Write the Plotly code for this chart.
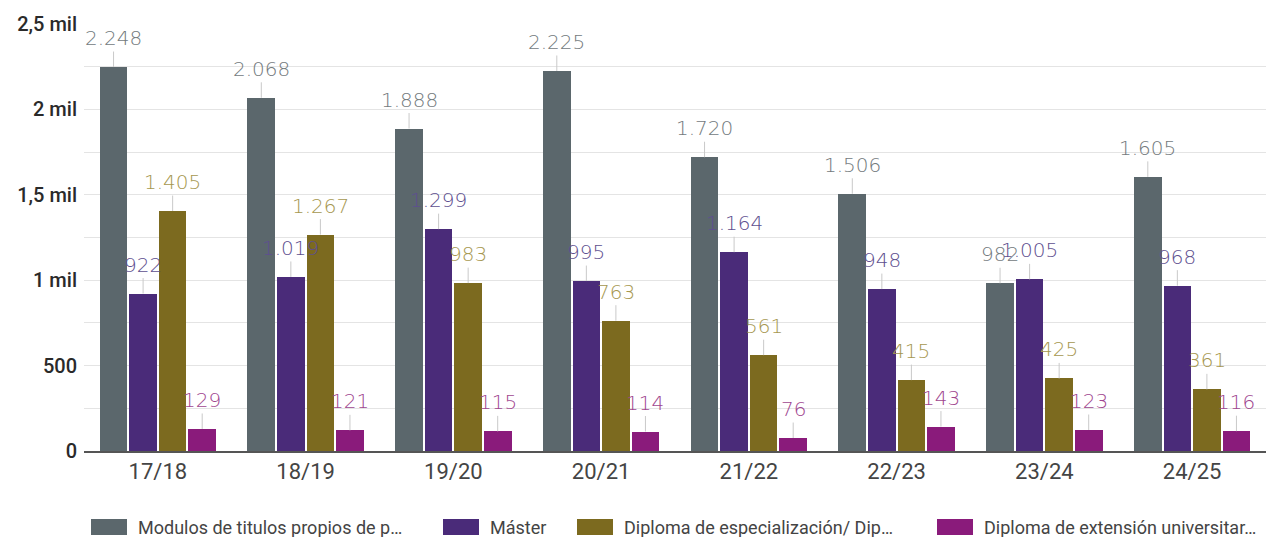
import plotly.graph_objects as go

categories = ["17/18", "18/19", "19/20", "20/21", "21/22", "22/23", "23/24", "24/25"]
series_names = [
    "Modulos de titulos propios de p…",
    "Máster",
    "Diploma de especialización/ Dip…",
    "Diploma de extensión universitar…",
]
modulos = [2248, 2068, 1888, 2225, 1720, 1506, 982, 1605]
master = [922, 1019, 1299, 995, 1164, 948, 1005, 968]
diploma_esp = [1405, 1267, 983, 763, 561, 415, 425, 361]
diploma_ext = [129, 121, 115, 114, 76, 143, 123, 116]
y_tick_vals = [0, 500, 1000, 1500, 2000, 2500]
y_tick_text = ["0", "500", "1 mil", "1,5 mil", "2 mil", "2,5 mil"]

series_values = [modulos, master, diploma_esp, diploma_ext]
bar_colors = ["#5b676c", "#4a2b79", "#7c6a1f", "#8a1b7b"]
label_colors = ["#737a7d", "#5e4f8f", "#a6974f", "#a0468f"]

W, H = 1266, 537
ML, MR, MT, MB = 84, 0, 24, 86
PW, PH = W - ML - MR, H - MT - MB

slot = 0.2
bar_w = 0.187

fig = go.Figure()
annotations = []
for k, (name, vals) in enumerate(zip(series_names, series_values)):
    xs = [i + (k - 1.5) * slot for i in range(len(categories))]
    fig.add_trace(go.Bar(
        x=xs, y=vals, width=bar_w, name=name,
        marker=dict(color=bar_colors[k], line=dict(width=0)),
        showlegend=False, hoverinfo="y",
    ))
    for x, v in zip(xs, vals):
        annotations.append(dict(
            x=x, y=v, xref="x", yref="y",
            text=f"{v:,}".replace(",", "."),
            showarrow=True, arrowhead=0, arrowwidth=1, arrowcolor="#c9c9c9",
            ax=0, ay=-29, standoff=0, startstandoff=0,
            font=dict(family="DejaVu Sans", size=20, color=label_colors[k], weight=200),
        ))

# custom legend
def px_x(p):
    return (p - ML) / PW

def px_y(p):
    return (H - MB - p) / PH

legend_starts = [91, 443, 577, 937]
shapes = []
for k, (name, sx) in enumerate(zip(series_names, legend_starts)):
    shapes.append(dict(
        type="rect", xref="paper", yref="paper",
        x0=px_x(sx), x1=px_x(sx + 36), y0=px_y(535), y1=px_y(519),
        fillcolor=bar_colors[k], line=dict(width=0),
    ))
    annotations.append(dict(
        x=px_x(sx + 45), y=px_y(527), xref="paper", yref="paper",
        xanchor="left", yanchor="middle", showarrow=False,
        text=name, font=dict(family="Roboto", size=18, color="#444444"),
    ))

fig.update_layout(
    width=W, height=H,
    margin=dict(l=ML, r=MR, t=MT, b=MB, autoexpand=False),
    plot_bgcolor="white", paper_bgcolor="white",
    showlegend=False,
    annotations=annotations, shapes=shapes,
    xaxis=dict(
        range=[-0.5, 7.5], tickvals=list(range(len(categories))), ticktext=categories,
        showgrid=False, zeroline=False, showline=True, linecolor="#555555", linewidth=1.5,
        ticks="", tickfont=dict(family="Roboto", size=22, color="#444444"),
        fixedrange=True,
    ),
    yaxis=dict(
        range=[0, 2500], tickvals=y_tick_vals, ticktext=y_tick_text,
        showgrid=True, gridcolor="#e4e4e4", gridwidth=1, zeroline=False,
        minor=dict(dtick=250, showgrid=True, gridcolor="#e4e4e4", gridwidth=1),
        ticks="", ticklabelstandoff=6,
        tickfont=dict(family="Roboto", size=20, color="#2a2a2a", weight=500),
        fixedrange=True,
    ),
    bargap=0,
)

fig.write_html(
    "out.html",
    config={"displayModeBar": False},
    post_script="document.body.style.margin='0';document.body.style.overflow='hidden';",
)
